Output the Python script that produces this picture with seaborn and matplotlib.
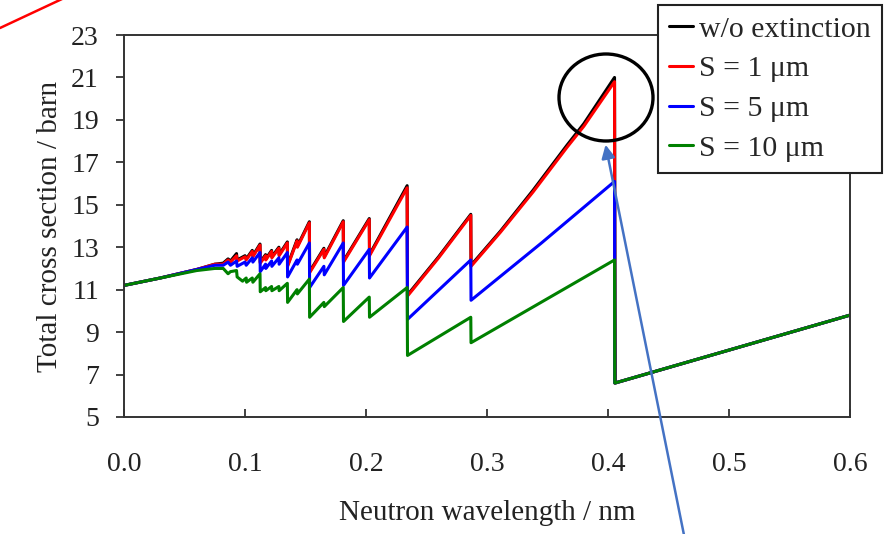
import matplotlib
matplotlib.use("Agg")
import matplotlib.pyplot as plt
import seaborn as sns
import pandas as pd
from matplotlib.patches import Ellipse, FancyArrowPatch
from matplotlib.lines import Line2D

# ---- data ----
series_labels = ["w/o extinction", "S = 1 \u03bcm", "S = 5 \u03bcm", "S = 10 \u03bcm"]
series_colors = ["#000000", "#FF0000", "#0000FF", "#008000"]

lam_black = [0.000, 0.030, 0.060, 0.075, 0.082, 0.086, 0.088, 0.093, 0.0935, 0.100, 0.101, 0.106, 0.1065,
             0.1124, 0.1126, 0.117, 0.1172, 0.122, 0.1222, 0.128, 0.1282, 0.135, 0.1352, 0.143, 0.1433,
             0.1532, 0.1534, 0.1652, 0.1655, 0.1812, 0.1814, 0.2027, 0.2029, 0.2340, 0.2343, 0.260,
             0.2866, 0.2868, 0.311, 0.338, 0.366, 0.380, 0.4054, 0.4060, 0.600]
sig_black = [11.2, 11.55, 11.95, 12.2, 12.25, 12.45, 12.35, 12.7, 12.4, 12.6, 12.45, 12.85, 12.6,
             13.15, 12.3, 12.65, 12.45, 12.85, 12.55, 13.0, 12.65, 13.25, 12.15, 13.35, 13.05,
             14.2, 11.85, 12.95, 12.55, 14.25, 12.35, 14.35, 12.65, 15.9, 10.75, 12.55,
             14.55, 12.15, 13.75, 15.68, 17.8, 18.82, 21.0, 6.6, 9.8]

lam_red = [0.000, 0.030, 0.060, 0.075, 0.082, 0.086, 0.088, 0.093, 0.0935, 0.100, 0.101, 0.106, 0.1065,
           0.1124, 0.1126, 0.117, 0.1172, 0.122, 0.1222, 0.128, 0.1282, 0.135, 0.1352, 0.143, 0.1433,
           0.1532, 0.1534, 0.1652, 0.1655, 0.1812, 0.1814, 0.2027, 0.2029, 0.2340, 0.2343, 0.260,
           0.2866, 0.2868, 0.311, 0.338, 0.366, 0.380, 0.4054, 0.4056, 0.600]
sig_red = [11.2, 11.55, 11.95, 12.2, 12.2, 12.4, 12.3, 12.6, 12.35, 12.55, 12.4, 12.8, 12.55,
           13.1, 12.25, 12.6, 12.4, 12.8, 12.5, 12.95, 12.6, 13.2, 12.1, 13.3, 13.0,
           14.15, 11.8, 12.9, 12.5, 14.2, 12.3, 14.3, 12.6, 15.8, 10.7, 12.5,
           14.5, 12.1, 13.7, 15.6, 17.7, 18.7, 20.8, 6.6, 9.8]

lam_blue = [0.000, 0.030, 0.060, 0.075, 0.082, 0.086, 0.088, 0.093, 0.0935, 0.100, 0.101, 0.106, 0.1065,
            0.1124, 0.1126, 0.117, 0.1172, 0.122, 0.1222, 0.128, 0.1282, 0.135, 0.1352, 0.143, 0.1433,
            0.1532, 0.1534, 0.1652, 0.1655, 0.1812, 0.1814, 0.2027, 0.2029, 0.2340, 0.2343,
            0.2866, 0.2868, 0.345, 0.4054, 0.4056, 0.600]
sig_blue = [11.2, 11.55, 11.95, 12.15, 12.15, 12.3, 12.15, 12.35, 12.1, 12.3, 12.15, 12.5, 12.3,
            12.75, 11.85, 12.2, 12.0, 12.35, 12.1, 12.5, 12.2, 12.75, 11.6, 12.4, 12.2,
            13.2, 11.1, 12.1, 11.7, 13.2, 11.2, 12.9, 11.55, 13.95, 9.6,
            12.4, 10.5, 13.2, 16.1, 6.6, 9.8]

lam_green = [0.000, 0.030, 0.060, 0.075, 0.082, 0.086, 0.088, 0.093, 0.0935, 0.098, 0.101, 0.1013, 0.106, 0.1065,
             0.1124, 0.1126, 0.117, 0.1172, 0.122, 0.1222, 0.128, 0.1282, 0.135, 0.1352, 0.143, 0.1433,
             0.1532, 0.1534, 0.1652, 0.1655, 0.1812, 0.1814, 0.2027, 0.2029, 0.2340, 0.2343,
             0.2866, 0.2868, 0.4054, 0.4056, 0.600]
sig_green = [11.2, 11.55, 11.9, 12.0, 12.0, 11.75, 11.85, 11.9, 11.6, 11.4, 11.55, 11.35, 11.55, 11.35,
             11.75, 10.9, 11.1, 10.95, 11.15, 10.95, 11.15, 10.95, 11.3, 10.4, 11.0, 10.8,
             11.5, 9.7, 10.4, 10.2, 11.1, 9.5, 10.65, 9.7, 11.1, 7.9,
             9.7, 8.5, 12.4, 6.6, 9.8]

x_ticks = [0.0, 0.1, 0.2, 0.3, 0.4, 0.5, 0.6]
y_ticks = [5, 7, 9, 11, 13, 15, 17, 19, 21, 23]

# ---- figure ----
sns.set_theme(style="white")
plt.rcParams["font.family"] = ["Liberation Serif", "DejaVu Serif"]

W, H = 884, 534
fig = plt.figure(figsize=(W / 100, H / 100), dpi=100)
ax = fig.add_axes([124 / W, 1 - 417 / H, (850 - 124) / W, (417 - 35) / H])

all_lam = [lam_black, lam_red, lam_blue, lam_green]
all_sig = [sig_black, sig_red, sig_blue, sig_green]
for lam, sig, lab, col in zip(all_lam, all_sig, series_labels, series_colors):
    df = pd.DataFrame({"lam": lam, "sig": sig})
    sns.lineplot(data=df, x="lam", y="sig", sort=False, estimator=None,
                 color=col, linewidth=2.2, ax=ax, label=lab, legend=False)

ax.set_xlim(0, 0.6)
ax.set_ylim(5, 23)
ax.set_xticks(x_ticks)
ax.set_xticklabels([f"{v:.1f}" for v in x_ticks])
ax.set_yticks(y_ticks)
ax.set_yticklabels([str(v) for v in y_ticks])
ax.tick_params(axis="x", direction="in", length=6, width=1.3, colors="#333333",
               labelcolor="#222222", labelsize=20, pad=25)
ax.tick_params(axis="y", direction="out", length=6, width=1.3, colors="#333333",
               labelcolor="#222222", labelsize=20, pad=12)
ax.tick_params(left=True, bottom=True)
for s in ax.spines.values():
    s.set_color("#333333")
    s.set_linewidth(1.4)
ax.set_xlabel("Neutron wavelength / nm", fontsize=21, color="#222222", labelpad=17)
ax.set_ylabel("Total cross section / barn", fontsize=21, color="#222222", labelpad=6)

handles = [Line2D([0], [0], color=c, lw=2.2) for c in series_colors]
leg = fig.legend(handles, series_labels, loc="upper left",
                 bbox_to_anchor=(658 / W, 1 - 5 / H), bbox_transform=fig.transFigure,
                 fontsize=21.5, frameon=True, fancybox=False, shadow=False,
                 handlelength=0.8, handletextpad=0.22, labelspacing=0.43,
                 borderpad=0.36, borderaxespad=0)
leg.get_frame().set_edgecolor("#222222")
leg.get_frame().set_linewidth(1.5)
leg.get_frame().set_facecolor("white")
leg.get_frame().set_alpha(1)

# ---- annotations (circle, arrow, stray red line) ----
def fx(px):
    return px / W

def fy(py):
    return 1 - py / H

ell = Ellipse((fx(606), fy(97.5)), width=94 / W, height=87 / H, transform=fig.transFigure,
              fill=False, edgecolor="black", linewidth=2.4, zorder=10)
fig.patches.append(ell)

arr = FancyArrowPatch((fx(685), fy(540)), (fx(605), fy(142)), transform=fig.transFigure,
                      arrowstyle="-|>,head_length=8,head_width=4", color="#4472C4",
                      linewidth=1.8, zorder=10)
fig.patches.append(arr)

fig.lines.append(Line2D([fx(0), fx(62)], [fy(28), fy(-1)], transform=fig.transFigure,
                        color="#FF0000", linewidth=1.8))

fig.savefig("out.png", dpi=100)
